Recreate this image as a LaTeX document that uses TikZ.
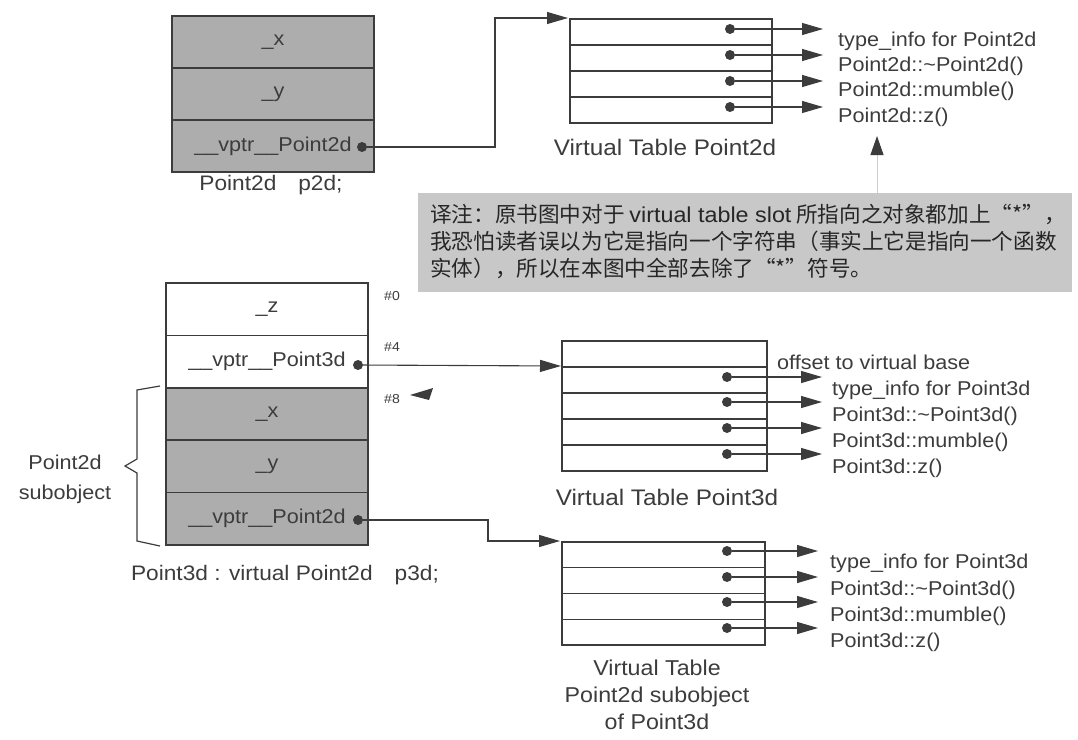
\documentclass[tikz,border=0pt]{standalone}
\usepackage{fontspec}
\setmainfont{Liberation Sans}[FakeStretch=1.08]
\newfontfamily\cjk{Noto Sans CJK SC}
\usetikzlibrary{arrows.meta}
\definecolor{ink}{HTML}{3C3C3C}
\definecolor{cellgray}{HTML}{ADADAD}
\definecolor{notegray}{HTML}{C8C8C8}
\begin{document}
\begin{tikzpicture}[x=1pt,y=-1pt,
  every node/.style={text=ink},
  gcell/.style={draw=ink, line width=1.6pt, fill=cellgray, minimum width=202pt, minimum height=52.4pt, inner sep=0pt, font=\fontsize{20}{23}\selectfont},
  wcell/.style={gcell, fill=white},
  slot/.style={draw=ink, line width=1.4pt, fill=white, minimum height=26pt, inner sep=0pt},
  dot/.style={circle, fill=ink, inner sep=0pt, minimum size=10pt},
  ptr/.style={draw=ink, line width=1.1pt, -{Triangle[length=21pt,width=12pt]}},
  fn/.style={anchor=west, inner sep=0pt, font=\fontsize{20}{23}\selectfont},
  lbl/.style={inner sep=0pt, font=\fontsize{22.5}{27}\selectfont, align=center},
  off/.style={anchor=west, inner sep=0pt, font=\fontsize{13}{15}\selectfont},
  notetext/.style={anchor=west, inner sep=0pt, text=black!85, font=\cjk\fontsize{21.6}{24}\selectfont}
]
\useasboundingbox (0,0) rectangle (1078,739);

% ---------- object p2d ----------
\node[gcell] (px) at (273,42) {\_x};
\node[gcell] (py) at (273,94) {\_y};
\node[gcell] (pv) at (273,146) {\_\_vptr\_\_Point2d};
\node[dot] (pvd) at (362,147) {};
\node[lbl, font=\fontsize{21}{27}\selectfont] (p2dlbl) at (271,185) {Point2d\hspace{22pt}p2d;};

% ---------- virtual table Point2d ----------
\foreach \i/\y in {1/32,2/58,3/84,4/110}{
  \node[slot, minimum width=202pt] (a\i) at (671,\y) {};
}
\foreach \i/\y in {1/29,2/55,3/81,4/107}{
  \node[dot] (a\i d) at (730,\y) {};
  \coordinate (a\i e) at (823,\y);
  \draw[ptr] (a\i d) -- (a\i e);
}
\node[fn] (a1t) at (838,41) {type\_info for Point2d};
\node[fn] (a2t) at (838,66) {Point2d::\textasciitilde Point2d()};
\node[fn] (a3t) at (838,91) {Point2d::mumble()};
\node[fn] (a4t) at (838,117) {Point2d::z()};
\node[lbl] (vt2lbl) at (665,147) {Virtual Table Point2d};

\coordinate (a0in) at (568,18);
\draw[ptr] (pvd) -- (495,147) |- (a0in);

% ---------- translator's note ----------
\node[fill=notegray, minimum width=654pt, minimum height=99pt, anchor=north west, inner sep=0pt] (note) at (418,193) {};
\node[notetext] (n1) at (430,215) {译注：原书图中对于 {\rmfamily virtual table slot} 所指向之对象都加上“*”，};
\node[notetext] (n2) at (430,241) {我恐怕读者误以为它是指向一个字符串（事实上它是指向一个函数};
\node[notetext] (n3) at (430,268) {实体），所以在本图中全部去除了“*”符号。};
\coordinate (upend) at (877,136);
\draw[gray!40, line width=1pt, -{Triangle[length=19pt,width=13pt,color=ink]}] (note.north -| upend) -- (upend);

% ---------- object p3d ----------
\node[wcell] (qz) at (267,309.2) {\_z};
\node[wcell] (qv3) at (267,361.6) {\_\_vptr\_\_Point3d};
\node[gcell] (qx) at (267,414) {\_x};
\node[gcell] (qy) at (267,466.4) {\_y};
\node[gcell] (qv2) at (267,518.8) {\_\_vptr\_\_Point2d};
\node[dot] (q3d) at (358,365) {};
\node[dot] (q2d) at (358,520) {};
\node[lbl, font=\fontsize{21}{27}\selectfont] (p3dlbl) at (285,575) {Point3d : virtual Point2d\hspace{22pt}p3d;};

\node[off] (o0) at (384,296) {\#0};
\node[off] (o4) at (384,347) {\#4};
\node[off] (o8) at (384,399) {\#8};
\fill[ink] (410,395) -- (433,388) -- (429,400) -- cycle;

% brace
\draw[ink, line width=1.2pt] (160,386) -- (137,390) -- (137,459) -- (125,466) -- (137,473) -- (137,541) -- (160,546);
\node[lbl, font=\fontsize{20}{30}\selectfont] (sublbl) at (65,479) {Point2d\\subobject};

% ---------- virtual table Point3d ----------
\foreach \i/\y in {0/354,1/380,2/406,3/432,4/458}{
  \node[slot, minimum width=205pt] (b\i) at (664.5,\y) {};
}
\foreach \i/\y in {1/377,2/402,3/428,4/454}{
  \node[dot] (b\i d) at (727,\y) {};
  \coordinate (b\i e) at (822,\y);
  \draw[ptr] (b\i d) -- (b\i e);
}
\node[fn] (b0t) at (777,362) {offset to virtual base};
\node[fn] (b1t) at (832,390) {type\_info for Point3d};
\node[fn] (b2t) at (832,416) {Point3d::\textasciitilde Point3d()};
\node[fn] (b3t) at (832,442) {Point3d::mumble()};
\node[fn] (b4t) at (832,468) {Point3d::z()};
\node[lbl] (vt3lbl) at (667,497) {Virtual Table Point3d};

\coordinate (b0in) at (561,366);
\draw[ptr] (q3d) -- (b0in);

% ---------- virtual table Point2d subobject of Point3d ----------
\foreach \i/\y in {1/554.9,2/580.6,3/606.4,4/632.1}{
  \node[slot, minimum width=203pt, minimum height=25.75pt] (c\i) at (663.5,\y) {};
}
\foreach \i/\y in {1/551,2/577,3/602,4/628}{
  \node[dot] (c\i d) at (727,\y) {};
  \coordinate (c\i e) at (818,\y);
  \draw[ptr] (c\i d) -- (c\i e);
}
\node[fn] (c1t) at (830,563) {type\_info for Point3d};
\node[fn] (c2t) at (830,590) {Point3d::\textasciitilde Point3d()};
\node[fn] (c3t) at (830,616) {Point3d::mumble()};
\node[fn] (c4t) at (830,642) {Point3d::z()};
\node[lbl, font=\fontsize{21.5}{27}\selectfont] (vtslbl) at (657,695) {Virtual Table\\Point2d subobject\\of Point3d};

\coordinate (c0in) at (560,541);
\draw[ptr] (q2d) -- (488,520) |- (c0in);
\end{tikzpicture}
\end{document}
